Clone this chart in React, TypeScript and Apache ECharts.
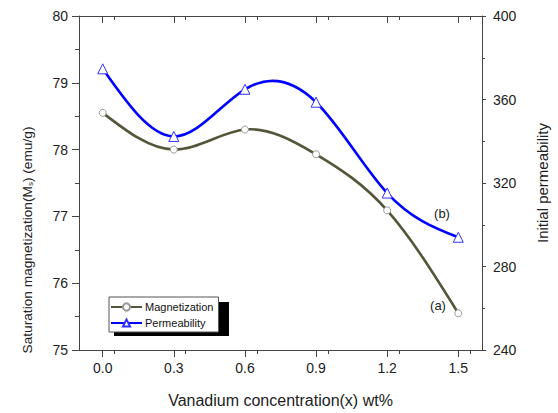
import React, { useEffect, useRef } from "react";
import * as echarts from "echarts";

const xValues = [0.0, 0.3, 0.6, 0.9, 1.2, 1.5];
const magnetization = [78.55, 78.0, 78.3, 77.93, 77.09, 75.55];
const permeability = [374.7, 342.3, 364.9, 358.7, 315.2, 294.0];
const seriesNames = ["Magnetization", "Permeability"];
const xTitle = "Vanadium concentration(x) wt%";
const rightTitle = "Initial permeability";
const curveLabels = ["(a)", "(b)"];

const FONT = "'Liberation Sans', Arial, sans-serif";
const AXIS_COLOR = "#444";
const MAG_COLOR = "#55553a";
const PERM_COLOR = "#0000ff";

// Natural cubic spline through pixel points, returned as an SVG path of cubic Beziers
function splinePath(pts: number[][]): string {
  const n = pts.length - 1;
  const h: number[] = [];
  for (let i = 0; i < n; i++) h.push(pts[i + 1][0] - pts[i][0]);
  const M = new Array(n + 1).fill(0);
  if (n >= 2) {
    const a: number[] = [], b: number[] = [], c: number[] = [], d: number[] = [];
    for (let i = 1; i < n; i++) {
      a.push(h[i - 1]);
      b.push(2 * (h[i - 1] + h[i]));
      c.push(h[i]);
      d.push(6 * ((pts[i + 1][1] - pts[i][1]) / h[i] - (pts[i][1] - pts[i - 1][1]) / h[i - 1]));
    }
    const m = b.length;
    for (let i = 1; i < m; i++) {
      const w = a[i] / b[i - 1];
      b[i] -= w * c[i - 1];
      d[i] -= w * d[i - 1];
    }
    const sol = new Array(m).fill(0);
    sol[m - 1] = d[m - 1] / b[m - 1];
    for (let i = m - 2; i >= 0; i--) sol[i] = (d[i] - c[i] * sol[i + 1]) / b[i];
    for (let i = 1; i < n; i++) M[i] = sol[i - 1];
  }
  let path = `M${pts[0][0]},${pts[0][1]}`;
  for (let i = 0; i < n; i++) {
    const [x0, y0] = pts[i];
    const [x1, y1] = pts[i + 1];
    const hi = h[i];
    const d0 = (y1 - y0) / hi - (hi * (2 * M[i] + M[i + 1])) / 6;
    const d1 = (y1 - y0) / hi + (hi * (M[i] + 2 * M[i + 1])) / 6;
    const c1x = x0 + hi / 3, c1y = y0 + (d0 * hi) / 3;
    const c2x = x1 - hi / 3, c2y = y1 - (d1 * hi) / 3;
    path += ` C${c1x},${c1y} ${c2x},${c2y} ${x1},${y1}`;
  }
  return path;
}

function curveSeries(data: number[][], yAxisIndex: number, color: string) {
  return {
    type: "custom",
    xAxisIndex: 0,
    yAxisIndex,
    data,
    z: 2,
    silent: true,
    renderItem: (params: any, api: any) => {
      if (params.dataIndex !== 0) return null;
      const pts = data.map((p) => api.coord(p));
      return {
        type: "path",
        shape: { pathData: splinePath(pts) },
        style: { stroke: color, lineWidth: 2.6, fill: null },
      };
    },
  };
}

export default function App() {
  const ref = useRef<HTMLDivElement>(null);
  useEffect(() => {
    if (!ref.current) return;
    const chart = echarts.init(ref.current, null, { renderer: "svg" });
    const magData = xValues.map((x, i) => [x, magnetization[i]]);
    const permData = xValues.map((x, i) => [x, permeability[i]]);
    const axisLineStyle = { color: AXIS_COLOR, width: 1 };
    const ticks = xValues;
    chart.setOption({
      animation: false,
      backgroundColor: "#fff",
      textStyle: { fontFamily: FONT },
      grid: { left: 79, right: 71, top: 16, bottom: 62, containLabel: false },
      legend: {
        left: 109,
        top: 297,
        orient: "vertical",
        z: 5,
        backgroundColor: "#fff",
        borderColor: "#555",
        borderWidth: 1,
        borderRadius: 0,
        padding: [3, 5, 2, 1],
        itemGap: 2,
        itemWidth: 31,
        itemHeight: 9,
        lineStyle: { opacity: 1 },
        textStyle: { fontSize: 11, color: "#111", fontFamily: FONT, padding: [0, 0, 0, -2], lineHeight: 14 },
        data: seriesNames,
      },
      xAxis: [
        {
          type: "value",
          min: -0.1,
          max: 1.6,
          interval: 0.3,
          name: xTitle,
          nameLocation: "middle",
          nameGap: 42,
          nameTextStyle: { fontSize: 16, color: "#222", fontFamily: FONT },
          axisLine: { show: true, onZero: false, lineStyle: axisLineStyle },
          axisTick: { show: true, inside: false, length: 7, lineStyle: axisLineStyle, customValues: ticks },
          minorTick: { show: true, splitNumber: 2, length: 4, lineStyle: axisLineStyle },
          axisLabel: {
            fontSize: 14,
            color: "#222",
            margin: 11,
            customValues: ticks,
            formatter: (v: number) => v.toFixed(1),
          },
          splitLine: { show: false },
        },
        {
          type: "value",
          position: "top",
          min: -0.1,
          max: 1.6,
          interval: 0.3,
          axisLine: { show: true, onZero: false, lineStyle: axisLineStyle },
          axisTick: { show: true, inside: true, length: 7, lineStyle: axisLineStyle, customValues: ticks },
          minorTick: { show: true, splitNumber: 2, length: 4, lineStyle: axisLineStyle },
          axisLabel: { show: false },
          splitLine: { show: false },
        },
      ],
      yAxis: [
        {
          type: "value",
          min: 75,
          max: 80,
          interval: 1,
          axisLine: { show: true, onZero: false, lineStyle: axisLineStyle },
          axisTick: { show: true, inside: false, length: 7, lineStyle: axisLineStyle },
          minorTick: { show: true, splitNumber: 2, length: 4, lineStyle: axisLineStyle },
          axisLabel: { fontSize: 14, color: "#222", margin: 11 },
          splitLine: { show: false },
        },
        {
          type: "value",
          position: "right",
          min: 240,
          max: 400,
          interval: 40,
          name: rightTitle,
          nameLocation: "middle",
          nameGap: 53,
          nameTextStyle: { fontSize: 15, color: "#222", fontFamily: FONT },
          axisLine: { show: true, onZero: false, lineStyle: axisLineStyle },
          axisTick: { show: true, inside: false, length: 4, lineStyle: axisLineStyle },
          minorTick: { show: true, splitNumber: 2, length: 3, lineStyle: axisLineStyle },
          axisLabel: { fontSize: 14, color: "#222", margin: 11 },
          splitLine: { show: false },
        },
      ],
      series: [
        curveSeries(magData, 0, MAG_COLOR),
        curveSeries(permData, 1, PERM_COLOR),
        {
          name: seriesNames[0],
          type: "line",
          xAxisIndex: 0,
          yAxisIndex: 0,
          data: magData,
          symbol: "circle",
          symbolSize: 7,
          z: 3,
          lineStyle: { color: MAG_COLOR, width: 2.5, opacity: 0 },
          itemStyle: { color: "#fff", borderColor: "#999", borderWidth: 1 },
        },
        {
          name: seriesNames[1],
          type: "line",
          xAxisIndex: 0,
          yAxisIndex: 1,
          data: permData,
          symbol: "triangle",
          symbolSize: 10,
          z: 3,
          lineStyle: { color: PERM_COLOR, width: 2.5, opacity: 0 },
          itemStyle: { color: "#fff", borderColor: "#3333ff", borderWidth: 1 },
        },
      ],
      graphic: [
        {
          type: "rect",
          z: 1,
          shape: { x: 114, y: 302, width: 115, height: 34 },
          style: { fill: "#000" },
        },
        {
          type: "text",
          x: 25,
          y: 240,
          rotation: Math.PI / 2,
          style: {
            text: "{a|Saturation magnetization(M}{b|s}{a|) (emu/g)}",
            align: "center",
            verticalAlign: "middle",
            fill: "#222",
            rich: {
              a: { fontSize: 13.7, fontFamily: FONT, fill: "#222", lineHeight: 18, verticalAlign: "bottom" },
              b: { fontSize: 8, fontFamily: FONT, fill: "#222", lineHeight: 11, verticalAlign: "bottom" },
            },
          },
        },
        {
          type: "text",
          x: 438,
          y: 305,
          style: { text: curveLabels[0], fontSize: 13, fontFamily: FONT, fill: "#222", align: "center", verticalAlign: "middle" },
        },
        {
          type: "text",
          x: 442,
          y: 213,
          style: { text: curveLabels[1], fontSize: 13, fontFamily: FONT, fill: "#222", align: "center", verticalAlign: "middle" },
        },
      ],
    });
    return () => chart.dispose();
  }, []);
  return <div ref={ref} style={{ width: 558, height: 413, position: "absolute", left: 0, top: 0 }} />;
}
